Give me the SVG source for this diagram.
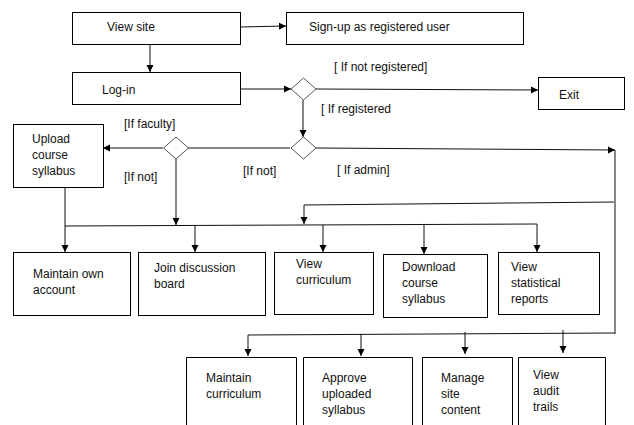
<svg xmlns="http://www.w3.org/2000/svg" width="634" height="425" viewBox="0 0 634 425">
<defs>
<marker id="ah" markerWidth="8" markerHeight="8" refX="7" refY="4" orient="auto" markerUnits="userSpaceOnUse">
<path d="M0,0.5 L7,4 L0,7.5 z" fill="#000"/>
</marker>
<style>
.box{fill:#fff;stroke:#000;stroke-width:1}
.dia{fill:#fff;stroke:#555;stroke-width:1}
.t{font-family:"Liberation Sans",Arial,sans-serif;font-size:12px;fill:#111}
.c{fill:none;stroke:#111;stroke-width:1}
.a{marker-end:url(#ah)}
</style>
</defs>
<rect width="634" height="425" fill="#fff"/>
<g id="connectors">
<path class="c a" d="M240,27 L286,26"/>
<path class="c a" d="M150,44 L150,72"/>
<path class="c a" d="M240,89 L291,89"/>
<path class="c a" d="M316,89 L538,90"/>
<path class="c a" d="M303,100 L303,137"/>
<path class="c a" d="M316,148 L615,150"/>
<path class="c" d="M615,150 L615,334"/>
<path class="c a" d="M614,202 L304,205 L304,224"/>
<path class="c" d="M615,333 L248,335"/>
<path class="c a" d="M248,335 L248,356"/>
<path class="c a" d="M361,334 L361,356"/>
<path class="c a" d="M465,332 L465,354"/>
<path class="c a" d="M563,330 L563,353"/>
<path class="c" d="M290,148 L188,148"/>
<path class="c a" d="M163,148 L103,148"/>
<path class="c a" d="M176,158 L176,225"/>
<path class="c a" d="M65,187 L65,252"/>
<path class="c" d="M65,226 L537,224"/>
<path class="c a" d="M195,226 L195,252"/>
<path class="c a" d="M323,225 L323,252"/>
<path class="c a" d="M424,224 L424,254"/>
<path class="c a" d="M537,224 L537,252"/>
</g>
<g id="view-site"><rect class="box" x="72.5" y="12.5" width="168" height="32"/><text class="t" x="107" y="31">View site</text></g>
<g id="sign-up"><rect class="box" x="286.5" y="12.5" width="237" height="32"/><text class="t" x="309" y="31">Sign-up as registered user</text></g>
<g id="log-in"><rect class="box" x="72.5" y="72.5" width="168" height="32"/><text class="t" x="102" y="94">Log-in</text></g>
<g id="d1"><path class="dia" d="M303.5,78 L316,89 L303.5,100 L291,89 z"/></g>
<g id="exit"><rect class="box" x="538.5" y="77.5" width="86" height="32"/><text class="t" x="559" y="99">Exit</text></g>
<g id="d2"><path class="dia" d="M303.5,137 L316,148 L303.5,159 L291,148 z"/></g>
<g id="d3"><path class="dia" d="M176,137 L188.5,148 L176,159 L163.5,148 z"/></g>
<g id="upload"><rect class="box" x="13.5" y="124.5" width="90" height="63"/><text class="t" x="32" y="143">Upload</text><text class="t" x="32" y="159">course</text><text class="t" x="32" y="175">syllabus</text></g>
<g id="labels">
<text class="t" x="334" y="71">[ If not registered]</text>
<text class="t" x="321" y="113">[ If registered</text>
<text class="t" x="124" y="128">[If faculty]</text>
<text class="t" x="124" y="181">[If not]</text>
<text class="t" x="243" y="175">[If not]</text>
<text class="t" x="337" y="174">[ If admin]</text>
</g>
<g id="maintain-own"><rect class="box" x="13.5" y="252.5" width="117" height="63"/><text class="t" x="33" y="278">Maintain own</text><text class="t" x="33" y="294">account</text></g>
<g id="join"><rect class="box" x="138.5" y="252.5" width="127" height="63"/><text class="t" x="154" y="272">Join discussion</text><text class="t" x="154" y="288">board</text></g>
<g id="view-curr"><rect class="box" x="274.5" y="252.5" width="99" height="62"/><text class="t" x="296" y="268">View</text><text class="t" x="296" y="284">curriculum</text></g>
<g id="download"><rect class="box" x="383.5" y="254.5" width="104" height="63"/><text class="t" x="402" y="271">Download</text><text class="t" x="402" y="287">course</text><text class="t" x="402" y="303">syllabus</text></g>
<g id="stat"><rect class="box" x="498.5" y="252.5" width="101" height="62"/><text class="t" x="511" y="271">View</text><text class="t" x="511" y="287">statistical</text><text class="t" x="511" y="303">reports</text></g>
<g id="maintain-curr"><path class="box" d="M186.5,426 V357.5 H296.5 V426"/><text class="t" x="206" y="382">Maintain</text><text class="t" x="206" y="398">curriculum</text></g>
<g id="approve"><path class="box" d="M303.5,426 V357.5 H412.5 V426"/><text class="t" x="322" y="382">Approve</text><text class="t" x="322" y="398">uploaded</text><text class="t" x="322" y="414">syllabus</text></g>
<g id="manage"><path class="box" d="M422.5,426 V357.5 H512.5 V426"/><text class="t" x="441" y="382">Manage</text><text class="t" x="441" y="398">site</text><text class="t" x="441" y="414">content</text></g>
<g id="audit"><path class="box" d="M518.5,426 V357.5 H605.5 V426"/><text class="t" x="533" y="379">View</text><text class="t" x="533" y="395">audit</text><text class="t" x="533" y="411">trails</text></g>
</svg>
